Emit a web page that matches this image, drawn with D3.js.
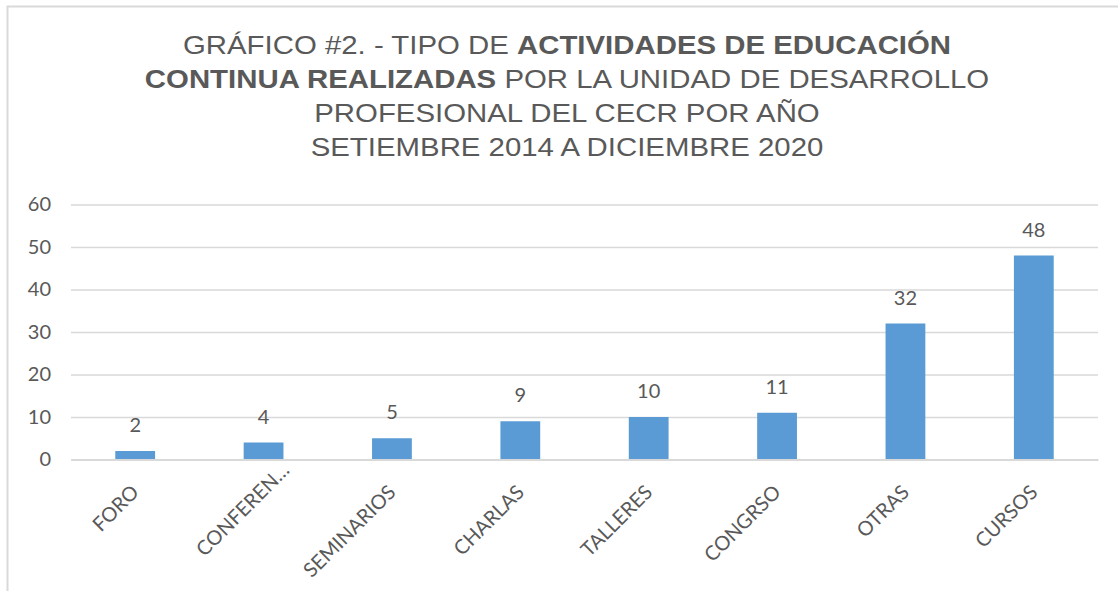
<!DOCTYPE html>
<html>
<head>
<meta charset="utf-8">
<script src="https://cdn.jsdelivr.net/npm/d3@7"></script>
<style>
  html, body { margin: 0; padding: 0; background: #fff; }
  svg { display: block; }
</style>
</head>
<body>
<div id="chart"></div>
<script>
// Datos del gráfico
const categories = ['FORO', 'CONFEREN…', 'SEMINARIOS', 'CHARLAS', 'TALLERES', 'CONGRSO', 'OTRAS', 'CURSOS'];
const values = [2, 4, 5, 9, 10, 11, 32, 48];
const yTicks = [0, 10, 20, 30, 40, 50, 60];
const titleLines = [
  [{ t: 'GRÁFICO #2. - TIPO DE ', b: false }, { t: 'ACTIVIDADES DE EDUCACIÓN', b: true }],
  [{ t: 'CONTINUA REALIZADAS', b: true }, { t: ' POR LA UNIDAD DE DESARROLLO', b: false }],
  [{ t: 'PROFESIONAL DEL CECR POR AÑO', b: false }],
  [{ t: 'SETIEMBRE 2014 A DICIEMBRE 2020', b: false }]
];

const W = 1118, H = 591;
const margin = { top: 204.5, right: 20, bottom: 131.5, left: 71 };
const innerW = W - margin.left - margin.right;
const innerH = H - margin.top - margin.bottom;
const TEXT = '#595959';
const GRID = '#d9d9d9';
const BAR = '#5b9bd5';
const LABEL_FONT = 'Lato, "Open Sans", sans-serif';

const svg = d3.select('#chart').append('svg')
  .attr('width', W)
  .attr('height', H);

// marco del gráfico
svg.append('rect')
  .attr('x', 7.5).attr('y', 6.5)
  .attr('width', W + 20).attr('height', H + 20)
  .attr('fill', '#fff')
  .attr('stroke', GRID)
  .attr('stroke-width', 2);

// el título de la imagen original está algo ensanchado
const title = svg.append('text')
  .attr('text-anchor', 'middle')
  .attr('fill', TEXT)
  .attr('transform', 'translate(567,0) scale(1.13,1)')
  .style('font-family', '"Liberation Sans", Arial, sans-serif')
  .style('font-size', '26px');

titleLines.forEach((line, i) => {
  const tl = title.append('tspan')
    .attr('x', 0)
    .attr('y', 54 + i * 34);
  line.forEach((part) => {
    tl.append('tspan')
      .style('font-weight', part.b ? 'bold' : 'normal')
      .text(part.t);
  });
});

const g = svg.append('g')
  .attr('transform', `translate(${margin.left},${margin.top})`);

const x = d3.scaleBand()
  .domain(categories)
  .range([0, innerW])
  .paddingInner(0.69)
  .paddingOuter(0.345);

const y = d3.scaleLinear()
  .domain([0, 60])
  .range([innerH, 0]);

// líneas de cuadrícula y eje Y
g.append('g')
  .call(d3.axisLeft(y).tickValues(yTicks).tickSize(-innerW).tickPadding(20).tickFormat(d3.format('d')))
  .call((ax) => ax.select('.domain').remove())
  .call((ax) => ax.selectAll('line').attr('stroke', GRID).attr('stroke-width', 1.5))
  .call((ax) => ax.selectAll('text')
    .attr('fill', TEXT)
    .style('font-family', LABEL_FONT)
    .style('font-size', '20px'));

g.selectAll('.bar')
  .data(values)
  .enter()
  .append('rect')
  .attr('class', 'bar')
  .attr('x', (d, i) => x(categories[i]))
  .attr('y', (d) => y(d))
  .attr('width', x.bandwidth())
  .attr('height', (d) => innerH - y(d))
  .attr('fill', BAR);

g.selectAll('.val')
  .data(values)
  .enter()
  .append('text')
  .attr('class', 'val')
  .attr('x', (d, i) => x(categories[i]) + x.bandwidth() / 2)
  .attr('y', (d) => y(d) - 19)
  .attr('text-anchor', 'middle')
  .attr('fill', TEXT)
  .style('font-family', LABEL_FONT)
  .style('font-size', '20px')
  .text((d) => d);

// eje X con etiquetas giradas (la truncada queda desplazada como en Excel)
g.append('g')
  .attr('transform', `translate(0,${innerH})`)
  .call(d3.axisBottom(x).tickSize(0).tickPadding(0))
  .call((ax) => ax.select('.domain').attr('stroke', GRID).attr('stroke-width', 2))
  .call((ax) => ax.selectAll('text')
    .attr('fill', TEXT)
    .attr('text-anchor', 'end')
    .attr('dy', '0')
    .attr('transform', (d) => d.endsWith('…')
      ? 'translate(27,12) rotate(-45)'
      : 'translate(5,34) rotate(-45)')
    .style('font-family', LABEL_FONT)
    .style('font-size', '20px'));
</script>
</body>
</html>
